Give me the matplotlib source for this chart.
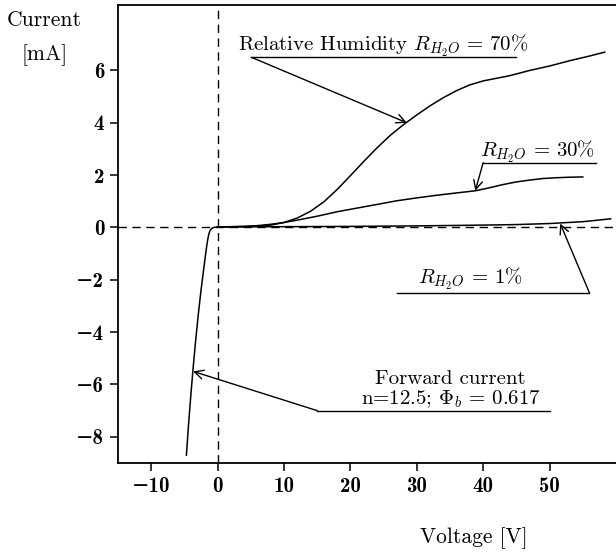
import matplotlib.pyplot as plt
import numpy as np

plt.rcParams['font.family'] = 'cmr10'
plt.rcParams['mathtext.fontset'] = 'cm'
plt.rcParams['axes.unicode_minus'] = False

# forward branch (common to all humidities)
fwd_v = [-4.7, -4.4, -4.0, -3.7, -3.3, -2.9, -2.5, -2.1, -1.8, -1.55, -1.35, -1.15, -0.9, -0.6, 0.0]
fwd_i = [-8.7, -7.6, -6.3, -5.4, -4.3, -3.3, -2.4, -1.6, -1.0, -0.55, -0.28, -0.12, -0.04, 0.0, 0.02]

v70 = [0, 3, 6, 8, 10, 12, 14, 16, 18, 20, 22, 24, 26, 28, 30, 32, 34, 36, 38, 40, 42, 44, 47, 50, 53, 56, 58.3]
i70 = [0.02, 0.03, 0.05, 0.09, 0.19, 0.36, 0.62, 0.98, 1.45, 1.98, 2.52, 3.04, 3.52, 3.93, 4.3, 4.65, 4.96,
       5.23, 5.45, 5.6, 5.7, 5.8, 6.0, 6.17, 6.37, 6.55, 6.7]

v30 = [0, 4, 6, 8, 10, 12, 15, 18, 21, 24, 27, 30, 33, 36, 38.8, 41, 43, 45, 47, 49, 51, 53, 55]
i30 = [0.02, 0.04, 0.07, 0.12, 0.19, 0.28, 0.43, 0.6, 0.74, 0.88, 1.02, 1.13, 1.23, 1.32, 1.4, 1.52, 1.64,
       1.74, 1.81, 1.87, 1.9, 1.92, 1.93]

v01 = [0, 10, 20, 30, 40, 45, 50, 55, 59.2]
i01 = [0.02, 0.03, 0.04, 0.06, 0.09, 0.11, 0.15, 0.22, 0.33]

xticks = [-10, 0, 10, 20, 30, 40, 50]
yticks = [-8, -6, -4, -2, 0, 2, 4, 6]

fig = plt.figure(figsize=(6.16, 5.58), dpi=100)
ax = fig.add_axes([0.1916, 0.1703, 0.8084, 0.8207])
ax.set_xlim(-15, 60)
ax.set_ylim(-9, 8.5)

ax.axhline(0, color='k', lw=1, ls=(0, (6, 4)))
ax.axvline(0, color='k', lw=1, ls=(0, (6, 4)))

for v, i in [(fwd_v, fwd_i), (v70, i70), (v30, i30), (v01, i01)]:
    ax.plot(v, i, color='k', lw=1.1)

ax.spines['right'].set_visible(False)
for s in ['left', 'bottom', 'top']:
    ax.spines[s].set_linewidth(1.3)
ax.tick_params(direction='out', length=6, width=1.1, pad=4)
ax.set_xticks(xticks)
ax.set_xticklabels([str(t).replace('-', '\u2212') for t in xticks])
ax.set_yticks(yticks)
ax.set_yticklabels([str(t).replace('-', '\u2212') for t in yticks])
for lab in ax.get_xticklabels() + ax.get_yticklabels():
    lab.set_fontfamily(['cmb10', 'DejaVu Sans'])
    lab.set_fontsize(15)

arr = dict(arrowstyle='->', color='k', lw=1, shrinkA=0, shrinkB=0, mutation_scale=16)
fs = 15

# 70 %
ax.text(24.9, 6.75, r'Relative Humidity $R_{H_2O}\,=\,70\%$', ha='center', va='baseline', fontsize=fs)
ax.plot([5.1, 45], [6.5, 6.5], color='k', lw=1)
ax.annotate('', xy=(28.5, 4.0), xytext=(5.1, 6.5), arrowprops=arr)

# 30 %
ax.text(48.2, 2.7, r'$R_{H_2O}\,=\,30\%$', ha='center', va='baseline', fontsize=fs)
ax.plot([40, 57], [2.48, 2.48], color='k', lw=1)
ax.annotate('', xy=(38.8, 1.4), xytext=(40, 2.48), arrowprops=arr)

# 1 %
ax.text(38, -2.15, r'$R_{H_2O}\,=\,1\%$', ha='center', va='baseline', fontsize=fs)
ax.plot([27, 56], [-2.5, -2.5], color='k', lw=1)
ax.annotate('', xy=(51.6, 0.15), xytext=(56, -2.5), arrowprops=arr)

# forward current
ax.text(35.1, -6.0, 'Forward current', ha='center', va='baseline', fontsize=fs)
ax.text(35.1, -6.75, r'n=12.5; $\Phi_b\,=\,0.617$', ha='center', va='baseline', fontsize=fs)
ax.plot([15, 50], [-7.0, -7.0], color='k', lw=1)
ax.annotate('', xy=(-3.7, -5.5), xytext=(15, -7.0), arrowprops=arr)

fig.text(44 / 616, 1 - 20 / 558, 'Current', ha='center', va='center', fontsize=15.5)
fig.text(45 / 616, 1 - 55 / 558, '[mA]', ha='center', va='center', fontsize=15.5)
fig.text(474 / 616, 1 - 538 / 558, 'Voltage [V]', ha='center', va='center', fontsize=15.5)

fig.savefig('out.png', dpi=100)
